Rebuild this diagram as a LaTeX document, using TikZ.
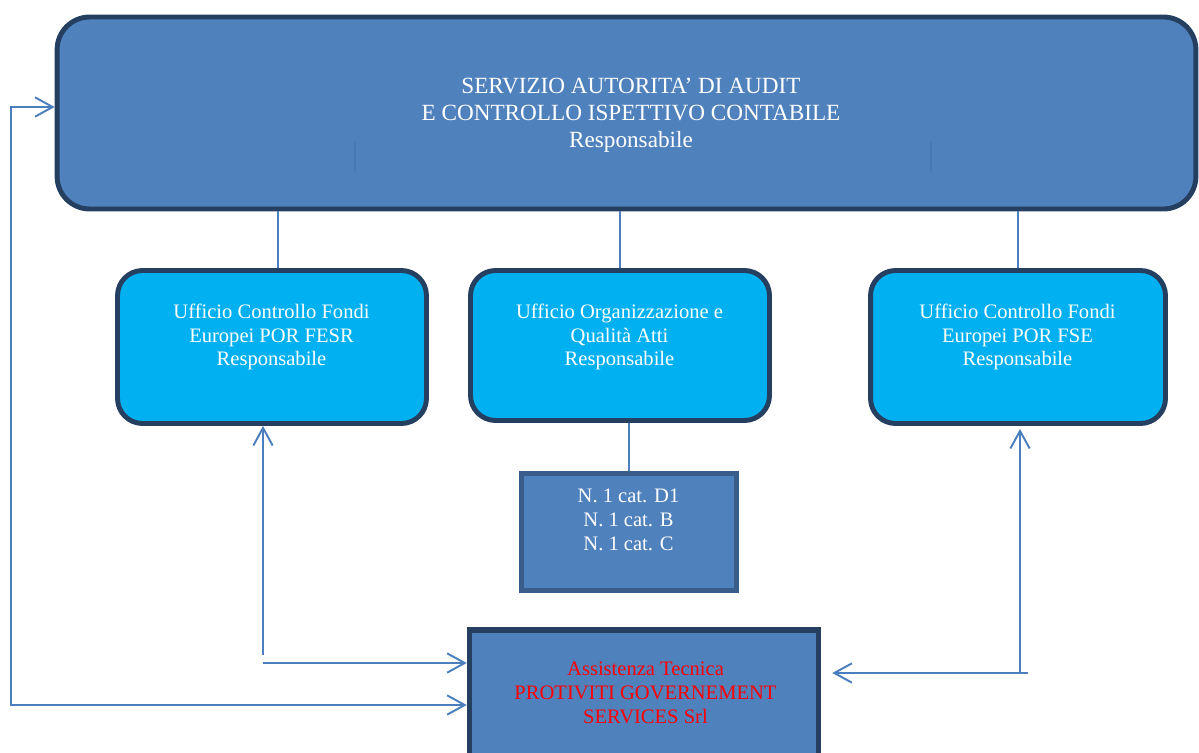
\documentclass[tikz,border=0pt]{standalone}
\usepackage{fontspec}
\setmainfont{Liberation Serif}
\usepackage{xcolor}
\usetikzlibrary{arrows.meta, calc}
\definecolor{servblue}{HTML}{4F81BD}
\definecolor{servdark}{HTML}{243F60}
\definecolor{uffcyan}{HTML}{00B0F0}
\definecolor{catborder}{HTML}{385D8A}
\definecolor{linkblue}{HTML}{4A7EBD}

\begin{document}
\begin{tikzpicture}[x=0.02cm, y=-0.02cm,
    servbox/.style={draw=servdark, line width=2.8pt, fill=servblue, rounded corners=0.65cm, inner sep=0pt},
    uffbox/.style={draw=servdark, line width=2.8pt, fill=uffcyan, rounded corners=0.5cm, inner sep=0pt},
    catbox/.style={draw=catborder, line width=2.8pt, fill=servblue, inner sep=0pt},
    atbox/.style={draw=servdark, line width=3.2pt, fill=servblue, inner sep=0pt},
    bigtxt/.style={text=white, align=center, anchor=north, inner sep=0pt, font=\fontsize{13.2}{15.2}\selectfont},
    smalltxt/.style={text=white, align=center, anchor=north, inner sep=0pt, font=\fontsize{11.7}{13.4}\selectfont},
    link/.style={draw=linkblue, line width=1.1pt},
    linkarrow/.style={link, -{Straight Barb[length=10pt, width=11pt]}}
]
\useasboundingbox (0,0) rectangle (1199,753);
\clip (0,0) rectangle (1199,753);

% boxes
\node[servbox, minimum width=22.78cm, minimum height=3.84cm] (serv) at (626.5,113) {};
\node[uffbox, minimum width=6.18cm, minimum height=3.06cm] (fesr) at (272,347) {};
\node[uffbox, minimum width=5.98cm, minimum height=3.0cm] (org) at (620,345.5) {};
\node[uffbox, minimum width=5.9cm, minimum height=3.06cm] (fse) at (1018,347) {};
\node[catbox, minimum width=4.3cm, minimum height=2.34cm] (cat) at (629,532) {};
\node[atbox, minimum width=6.98cm, minimum height=3.2cm] (assist) at (644,710) {};

% faint marks inside the top box
\draw[servdark!12!servblue, line width=0.6pt] (355,142) -- (355,172);
\draw[servdark!12!servblue, line width=0.6pt] (931,142) -- (931,172);

% texts
\node[bigtxt] (servtxt) at (631,78) {SERVIZIO AUTORITA’ DI AUDIT\\E CONTROLLO ISPETTIVO CONTABILE\\Responsabile};
\node[smalltxt] (fesrtxt) at (271.5,304) {Ufficio Controllo Fondi\\Europei POR FESR\\Responsabile};
\node[smalltxt] (orgtxt) at (619.5,304) {Ufficio Organizzazione e\\Qualità Atti\\Responsabile};
\node[smalltxt] (fsetxt) at (1017.5,304) {Ufficio Controllo Fondi\\Europei POR FSE\\Responsabile};
\node[smalltxt] (cattxt) at (628.5,489) {N. 1 cat. D1\\N. 1 cat. B\\N. 1 cat. C};
\node[smalltxt, text=red] (assisttxt) at (645.5,662) {Assistenza Tecnica\\PROTIVITI GOVERNEMENT\\SERVICES Srl};

% hierarchy lines
\draw[link] ([xshift=0.12cm]fesr.north) -- ([xshift=0.12cm]fesr.north |- serv.south);
\draw[link] (org.north) -- (org.north |- serv.south);
\draw[link] (fse.north) -- (fse.north |- serv.south);
\draw[link] (cat.north) -- (cat.north |- org.south);

% arrows to the technical assistance
\coordinate (fesrfoot) at (263,655);
\coordinate (fesrturn) at (263,663);
\draw[linkarrow] (fesrfoot) -- (fesrfoot |- fesr.south);
\draw[linkarrow] (fesrturn) -- (fesrturn -| assist.west);

\coordinate (lefttop) at (11,107);
\coordinate (leftfoot) at (11,705);
\draw[link, {Straight Barb[length=10pt, width=11pt]}-{Straight Barb[length=10pt, width=11pt]}]
    (lefttop -| serv.west) -- (lefttop) -- (leftfoot) -- (leftfoot -| assist.west);

\coordinate (rightfoot) at (1020,672);
\coordinate (rightturn) at (1028,673);
\draw[linkarrow, shorten >=0.06cm] (rightfoot) -- (rightfoot |- fse.south);
\draw[linkarrow, shorten >=0.22cm] (rightturn) -- (rightturn -| assist.east);
\end{tikzpicture}
\end{document}
